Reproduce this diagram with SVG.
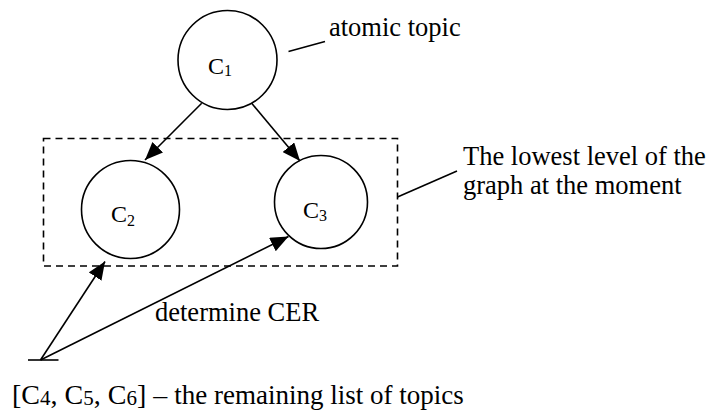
<svg xmlns="http://www.w3.org/2000/svg" width="710" height="410" viewBox="0 0 710 410">
<style>
  .node { fill: #fff; stroke: #000; stroke-width: 1.6; }
  .edge { stroke: #000; stroke-width: 1.6; fill: none; }
  .lead { stroke: #000; stroke-width: 1.6; fill: none; }
  .box { fill: none; stroke: #000; stroke-width: 1.6; stroke-dasharray: 7 5; }
  text { font-family: "Liberation Serif", "Times New Roman", serif; fill: #000; }
  .lbl { font-size: 26.5px; }
  .cn { font-size: 24px; }
  .sub { font-size: 16px; }
</style>
<defs>
  <marker id="ah" viewBox="0 0 18 15" refX="18" refY="7.5" markerWidth="18" markerHeight="15" orient="auto" markerUnits="userSpaceOnUse">
    <path d="M0,0 L18,7.5 L0,15 z" fill="#000"/>
  </marker>
</defs>

<g id="lowest-level-box">
  <rect class="box" x="43.5" y="138.5" width="354" height="127.5"/>
</g>

<g id="node-c1">
  <circle class="node" cx="227.5" cy="60" r="49.5"/>
  <text class="cn" x="208" y="74">C<tspan class="sub" dy="2">1</tspan></text>
</g>
<g id="node-c2">
  <circle class="node" cx="130.5" cy="209.5" r="49"/>
  <text class="cn" x="111" y="221.5">C<tspan class="sub" dy="4">2</tspan></text>
</g>
<g id="node-c3">
  <circle class="node" cx="321" cy="202" r="46.5"/>
  <text class="cn" x="303" y="217.5">C<tspan class="sub" dy="3">3</tspan></text>
</g>

<g id="connectors">
  <line class="edge" x1="201.7" y1="103.3" x2="145" y2="160" marker-end="url(#ah)"/>
  <line class="edge" x1="251.7" y1="103.3" x2="300" y2="161" marker-end="url(#ah)"/>
  <line class="edge" x1="40.5" y1="360" x2="105" y2="261.5" marker-end="url(#ah)"/>
  <line class="edge" x1="40.5" y1="360" x2="288.5" y2="236.5" marker-end="url(#ah)"/>
  <line class="edge" x1="28" y1="360" x2="58.5" y2="360"/>
  <line class="lead" x1="288.5" y1="51.5" x2="325" y2="41.5"/>
  <line class="lead" x1="397.5" y1="197" x2="457" y2="171"/>
</g>

<g id="labels">
  <text class="lbl" x="329" y="35.5">atomic topic</text>
  <text class="lbl" x="463" y="165">The lowest level of the</text>
  <text class="lbl" x="463" y="193.5">graph at the moment</text>
  <text class="lbl" x="155" y="320.5">determine CER</text>
  <text x="12" y="404" font-size="28px">[C<tspan font-size="21px" dy="1">4</tspan><tspan dy="-1">, C</tspan><tspan font-size="21px" dy="1">5</tspan><tspan dy="-1">, C</tspan><tspan font-size="21px" dy="1">6</tspan><tspan dy="-1">] – </tspan><tspan font-size="27px">the remaining list of topics</tspan></text>
</g>
</svg>
